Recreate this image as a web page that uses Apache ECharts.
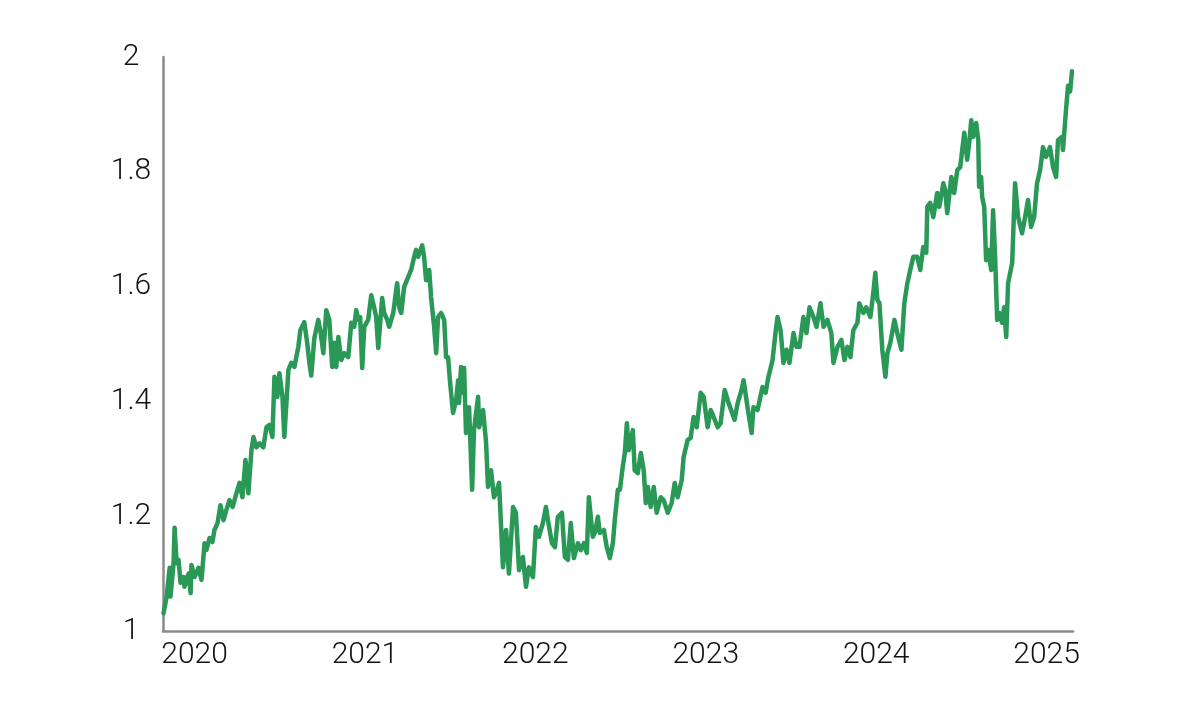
<!DOCTYPE html>
<html>
<head>
<meta charset="utf-8">
<script src="https://cdn.jsdelivr.net/npm/echarts@6/dist/echarts.min.js"></script>
<style>
html,body{margin:0;padding:0;background:#fff;}
#chart{width:1200px;height:712px;}
</style>
</head>
<body>
<div id="chart"></div>
<script>
// Time in decimal years
const years = [
2019.818,2019.836,2019.854,2019.859,2019.877,2019.883,2019.895,2019.906,2019.918,2019.936,2019.941,2019.965,2019.977,2019.982,
2020.000,2020.023,2020.041,2020.059,2020.070,2020.088,2020.105,2020.117,2020.135,2020.152,2020.170,2020.187,2020.205,2020.223,
2020.246,2020.264,2020.281,2020.299,2020.316,2020.334,2020.346,2020.363,2020.381,2020.404,2020.422,2020.439,2020.457,2020.469,
2020.486,2020.498,2020.516,2020.527,2020.551,2020.568,2020.586,2020.609,2020.621,2020.644,2020.662,2020.674,2020.685,2020.703,
2020.726,2020.738,2020.756,2020.773,2020.791,2020.808,2020.820,2020.832,2020.844,2020.861,2020.879,2020.902,2020.920,2020.937,
2020.949,2020.961,2020.972,2020.984,2020.996,2021.019,2021.037,2021.054,2021.066,2021.078,2021.101,2021.113,2021.131,2021.142,
2021.166,2021.189,2021.201,2021.213,2021.230,2021.254,2021.271,2021.289,2021.300,2021.312,2021.336,2021.347,2021.359,2021.377,
2021.388,2021.406,2021.418,2021.429,2021.447,2021.465,2021.476,2021.488,2021.500,2021.517,2021.535,2021.547,2021.552,2021.564,
2021.576,2021.582,2021.593,2021.611,2021.629,2021.640,2021.664,2021.670,2021.693,2021.711,2021.722,2021.740,2021.757,2021.769,
2021.787,2021.810,2021.828,2021.845,2021.869,2021.886,2021.904,2021.927,2021.945,2021.962,2021.986,2022.003,2022.021,2022.044,
2022.062,2022.074,2022.097,2022.115,2022.132,2022.156,2022.173,2022.191,2022.208,2022.226,2022.250,2022.267,2022.285,2022.302,
2022.314,2022.337,2022.349,2022.367,2022.378,2022.402,2022.419,2022.437,2022.455,2022.466,2022.484,2022.496,2022.513,2022.525,
2022.537,2022.548,2022.572,2022.583,2022.601,2022.619,2022.636,2022.648,2022.660,2022.677,2022.695,2022.712,2022.736,2022.753,
2022.777,2022.800,2022.818,2022.835,2022.859,2022.870,2022.894,2022.911,2022.929,2022.947,2022.970,2022.988,2023.011,2023.029,
2023.046,2023.070,2023.087,2023.111,2023.134,2023.169,2023.187,2023.210,2023.222,2023.245,2023.269,2023.280,2023.304,2023.333,
2023.351,2023.368,2023.392,2023.409,2023.421,2023.439,2023.456,2023.474,2023.491,2023.515,2023.532,2023.550,2023.573,2023.591,
2023.609,2023.632,2023.650,2023.673,2023.691,2023.714,2023.737,2023.749,2023.773,2023.796,2023.814,2023.831,2023.849,2023.866,
2023.890,2023.901,2023.925,2023.942,2023.966,2023.983,2023.995,2024.007,2024.019,2024.036,2024.054,2024.066,2024.083,2024.107,
2024.124,2024.148,2024.165,2024.183,2024.200,2024.218,2024.241,2024.259,2024.276,2024.294,2024.300,2024.317,2024.335,2024.358,
2024.370,2024.394,2024.405,2024.417,2024.441,2024.458,2024.476,2024.493,2024.505,2024.517,2024.534,2024.546,2024.558,2024.569,
2024.587,2024.599,2024.604,2024.616,2024.622,2024.634,2024.645,2024.657,2024.675,2024.686,2024.698,2024.710,2024.722,2024.739,
2024.751,2024.763,2024.774,2024.798,2024.815,2024.833,2024.856,2024.874,2024.891,2024.909,2024.927,2024.944,2024.962,2024.979,
2024.997,2025.020,2025.038,2025.056,2025.067,2025.091,2025.096,2025.114,2025.126,2025.138,2025.149
];
const values = [
1.031,1.059,1.110,1.060,1.118,1.180,1.118,1.124,1.084,1.094,1.077,1.100,1.066,1.115,
1.094,1.110,1.089,1.153,1.141,1.162,1.155,1.176,1.188,1.219,1.193,1.211,1.228,1.216,
1.240,1.258,1.233,1.298,1.240,1.315,1.338,1.320,1.327,1.320,1.355,1.359,1.338,1.443,
1.408,1.449,1.408,1.338,1.455,1.467,1.460,1.495,1.524,1.538,1.500,1.467,1.445,1.510,
1.542,1.524,1.484,1.559,1.542,1.460,1.502,1.460,1.512,1.472,1.484,1.477,1.537,1.530,
1.559,1.542,1.547,1.458,1.530,1.542,1.585,1.564,1.547,1.493,1.580,1.554,1.542,1.530,
1.554,1.606,1.564,1.554,1.599,1.617,1.629,1.652,1.664,1.652,1.672,1.652,1.611,1.629,
1.582,1.530,1.484,1.547,1.554,1.542,1.477,1.477,1.432,1.380,1.402,1.437,1.397,1.460,
1.415,1.458,1.345,1.390,1.246,1.350,1.408,1.355,1.385,1.328,1.251,1.280,1.233,1.240,
1.258,1.111,1.176,1.100,1.216,1.206,1.106,1.129,1.077,1.111,1.094,1.181,1.164,1.188,
1.216,1.193,1.153,1.146,1.199,1.206,1.129,1.124,1.188,1.127,1.153,1.141,1.153,1.136,
1.233,1.164,1.171,1.199,1.171,1.176,1.146,1.127,1.153,1.193,1.246,1.246,1.286,1.310,
1.362,1.315,1.350,1.280,1.275,1.310,1.280,1.223,1.251,1.216,1.251,1.206,1.233,1.228,
1.206,1.223,1.258,1.233,1.263,1.303,1.333,1.336,1.373,1.355,1.415,1.408,1.355,1.385,
1.373,1.355,1.362,1.420,1.397,1.368,1.397,1.420,1.437,1.390,1.345,1.390,1.385,1.425,
1.415,1.443,1.472,1.519,1.547,1.524,1.467,1.490,1.467,1.519,1.495,1.495,1.547,1.519,
1.564,1.547,1.530,1.571,1.530,1.542,1.519,1.467,1.495,1.507,1.472,1.495,1.477,1.524,
1.537,1.571,1.554,1.564,1.547,1.589,1.624,1.577,1.571,1.490,1.443,1.484,1.502,1.542,
1.519,1.490,1.571,1.606,1.629,1.652,1.652,1.629,1.669,1.659,1.739,1.746,1.721,1.763,
1.739,1.780,1.768,1.728,1.791,1.763,1.803,1.808,1.838,1.868,1.821,1.850,1.890,1.861,
1.885,1.855,1.774,1.791,1.756,1.739,1.646,1.664,1.629,1.733,1.652,1.542,1.554,1.537,
1.564,1.512,1.606,1.641,1.780,1.721,1.693,1.721,1.751,1.704,1.721,1.780,1.803,1.843,
1.826,1.843,1.808,1.791,1.855,1.861,1.838,1.908,1.950,1.940,1.975
];
const yTicks = [1, 1.2, 1.4, 1.6, 1.8, 2];
const xTickYears = [2020, 2021, 2022, 2023, 2024, 2025];

const chart = echarts.init(document.getElementById('chart'));
const font = 'Roboto';
chart.setOption({
  animation: false,
  backgroundColor: '#ffffff',
  grid: { left: 163, right: 127, top: 57, bottom: 81, containLabel: false },
  xAxis: {
    type: 'value',
    min: 2019.815,
    max: 2025.155,
    splitLine: { show: false },
    axisTick: { show: false },
    axisLine: { show: true, lineStyle: { color: '#8a8a8a', width: 2.5 } },
    axisLabel: {
      color: '#111', fontSize: 30, fontFamily: font, fontWeight: 300, margin: 9,
      showMinLabel: false, showMaxLabel: false,
      formatter: v => xTickYears.includes(Math.round(v * 1000) / 1000) ? String(v) : ''
    }
  },
  yAxis: {
    type: 'value',
    min: 1, max: 2, interval: 0.2,
    splitLine: { show: false },
    axisTick: { show: false },
    axisLine: { show: true, lineStyle: { color: '#8a8a8a', width: 2.5 } },
    axisLabel: {
      color: '#111', fontSize: 30, fontFamily: font, fontWeight: 300, margin: 32, align: 'center',
      formatter: v => { const t = yTicks.find(k => Math.abs(k - v) < 1e-6); return t === undefined ? '' : String(t); }
    }
  },
  series: [{
    type: 'line',
    data: years.map((y, i) => [y, values[i]]),
    showSymbol: false,
    lineStyle: { color: '#2a9856', width: 4.5, join: 'round', cap: 'round' },
    itemStyle: { color: '#2a9856' }
  }]
});
</script>
</body>
</html>
